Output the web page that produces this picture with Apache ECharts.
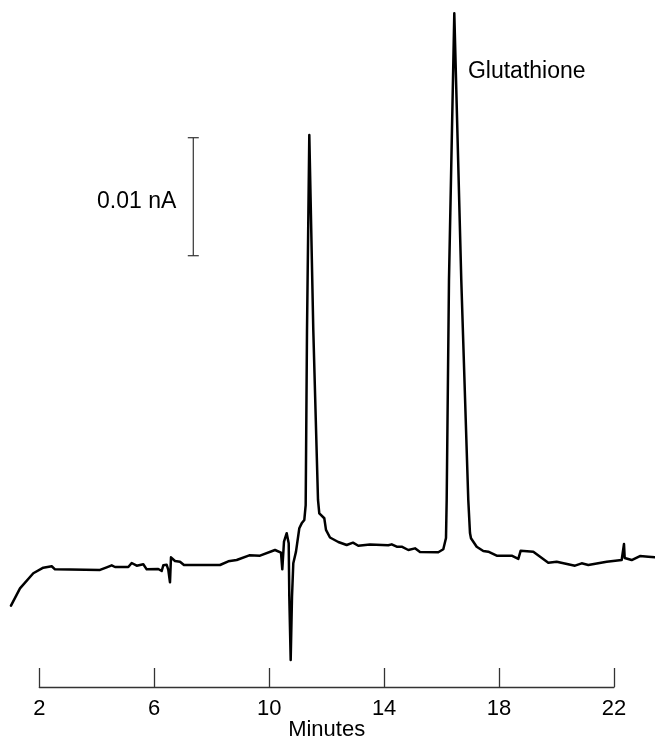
<!DOCTYPE html>
<html lang="en">
	<head>
		<meta charset="UTF-8">
		<title>Glutathione chromatogram</title>
		<script src="https://cdn.jsdelivr.net/npm/echarts@6/dist/echarts.min.js"></script>
		<style>
			html, body { margin: 0; padding: 0; background: #fff; }
			#main { width: 655px; height: 741px; }
		</style>
	</head>
	<body>
		<div id="main"></div>
		<script>
			// retention time, minutes
			var times = [1.015, 1.328, 1.791, 2.139, 2.432, 2.546, 4.113, 4.172, 4.346, 4.520,
				4.635, 5.098, 5.216, 5.390, 5.620, 5.738, 6.142, 6.260, 6.316, 6.434,
				6.490, 6.549, 6.584, 6.723, 6.897, 7.036, 8.290, 8.578, 8.871, 9.309,
				9.682, 10.204, 10.413, 10.458, 10.517, 10.611, 10.681, 10.702, 10.750, 10.796,
				10.841, 10.935, 11.050, 11.133, 11.224, 11.272, 11.318, 11.398, 11.537, 11.701,
				11.746, 11.920, 11.979, 12.118, 12.407, 12.699, 12.919, 13.103, 13.510, 14.147,
				14.266, 14.440, 14.614, 14.844, 15.077, 15.251, 15.888, 16.062, 16.156, 16.180,
				16.260, 16.445, 16.688, 16.932, 16.991, 17.026, 17.224, 17.454, 17.628, 17.921,
				18.443, 18.673, 18.756, 19.195, 19.717, 20.009, 20.646, 20.879, 21.109, 21.749,
				22.271, 22.327, 22.352, 22.376, 22.619, 22.908, 23.198, 23.431];
			// detector current, pA (relative)
			var signal = [6.89, 8.36, 9.64, 10.11, 10.23, 9.97, 9.92, 9.83, 10.14, 10.31,
				10.17, 10.17, 10.51, 10.28, 10.40, 9.97, 10.00, 9.83, 10.31, 10.36,
				9.92, 8.87, 10.99, 10.68, 10.62, 10.34, 10.34, 10.65, 10.76, 11.16,
				11.13, 11.61, 11.38, 9.97, 12.31, 13.03, 12.18, 7.65, 2.29, 7.65,
				10.48, 11.47, 13.45, 13.87, 14.15, 15.42, 30.25, 46.78, 30.25, 15.85,
				14.72, 14.30, 13.31, 12.67, 12.29, 12.03, 12.23, 11.97, 12.08, 12.01,
				12.09, 11.89, 11.89, 11.61, 11.75, 11.44, 11.42, 11.67, 12.63, 15.85,
				34.49, 57.09, 34.49, 15.85, 13.05, 12.60, 11.89, 11.53, 11.47, 11.13,
				11.13, 10.85, 11.55, 11.47, 10.53, 10.62, 10.28, 10.48, 10.34, 10.62,
				10.76, 10.81, 12.12, 10.93, 10.76, 11.10, 11.04, 10.99];

			var tickValues = [2, 6, 10, 14, 18, 22];
			var timeRange = [0.632, 23.431]; // plotted span of the trace
			// scale bar: [time, from, to] in pA -> 0.01 nA
			var scaleBar = [[7.36, 36.55, 46.55]];
			var scaleBarText = '0.01 nA';
			var peakLabels = [{ name: 'Glutathione', value: [16.92, 52.12] }];

			var fontFamily = 'Liberation Sans, Arial, sans-serif';
			var trace = times.map(function(t, i) { return [t, signal[i]]; });

			var chart = echarts.init(document.getElementById('main'), null, { renderer: 'canvas' });

			function renderScaleBar(params, api) {
				var top = api.coord([api.value(0), api.value(2)]);
				var bot = api.coord([api.value(0), api.value(1)]);
				var cap = 5.5;
				var stroke = { stroke: '#333', lineWidth: 1.2 };
				return {
					type: 'group',
					children: [
						{ type: 'line', shape: { x1: top[0], y1: top[1], x2: bot[0], y2: bot[1] }, style: stroke },
						{ type: 'line', shape: { x1: top[0] - cap, y1: top[1], x2: top[0] + cap, y2: top[1] }, style: stroke },
						{ type: 'line', shape: { x1: bot[0] - cap, y1: bot[1], x2: bot[0] + cap, y2: bot[1] }, style: stroke },
						{
							type: 'text',
							x: top[0] - 17,
							y: (top[1] + bot[1]) / 2 + 5,
							style: { text: scaleBarText, fill: '#000', font: '23px ' + fontFamily, textAlign: 'right', textVerticalAlign: 'middle' }
						}
					]
				};
			}

			function renderPeakLabel(params, api) {
				var p = api.coord([api.value(0), api.value(1)]);
				return {
					type: 'text',
					x: p[0],
					y: p[1],
					style: { text: peakLabels[params.dataIndex].name, fill: '#000', font: '23px ' + fontFamily, textAlign: 'left', textVerticalAlign: 'middle' }
				};
			}

			var option = {
				animation: false,
				textStyle: { fontFamily: fontFamily },
				grid: [
					// trace area, full width
					{ left: 0, right: 0, top: 0, bottom: 54, containLabel: false, outerBoundsMode: 'none' },
					// time axis 2..22
					{ left: 39.3, right: 41, top: 0, bottom: 54, containLabel: false, outerBoundsMode: 'none' }
				],
				xAxis: [
					{
						gridIndex: 0,
						type: 'value',
						min: timeRange[0],
						max: timeRange[1],
						show: false
					},
					{
						gridIndex: 1,
						type: 'value',
						min: tickValues[0],
						max: tickValues[tickValues.length - 1],
						interval: 4,
						axisLine: { show: true, lineStyle: { color: '#333', width: 1.3 } },
						axisTick: { show: true, inside: true, length: 19, lineStyle: { color: '#333', width: 1.3 } },
						axisLabel: { fontSize: 22, color: '#000', margin: 11 },
						splitLine: { show: false },
						name: 'Minutes',
						nameLocation: 'middle',
						nameGap: 32,
						nameMoveOverlap: false,
						nameTextStyle: { fontSize: 22, color: '#000' }
					}
				],
				yAxis: [
					{ gridIndex: 0, type: 'value', min: 0, max: 58.22, show: false },
					{ gridIndex: 1, type: 'value', min: 0, max: 58.22, show: false }
				],
				series: [
					{
						type: 'line',
						xAxisIndex: 0,
						yAxisIndex: 0,
						data: trace,
						symbol: 'none',
						clip: false,
						lineStyle: { color: '#000', width: 2.5, join: 'round', cap: 'round' }
					},
					{
						type: 'custom',
						xAxisIndex: 0,
						yAxisIndex: 0,
						renderItem: renderScaleBar,
						data: scaleBar,
						clip: false,
						silent: true
					},
					{
						type: 'custom',
						xAxisIndex: 0,
						yAxisIndex: 0,
						renderItem: renderPeakLabel,
						data: peakLabels,
						clip: false,
						silent: true
					}
				]
			};
			chart.setOption(option);
		</script>
	</body>
</html>
